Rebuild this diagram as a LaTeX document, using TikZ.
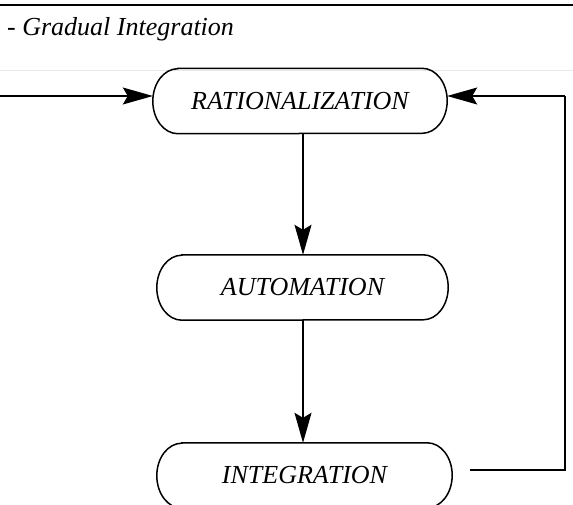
\documentclass[tikz,border=0pt]{standalone}
\usepackage{fontspec}
\setmainfont{Liberation Serif}
\usetikzlibrary{arrows.meta,calc}

\tikzset{
  box/.style={draw=none, shape=rectangle, inner sep=0pt, minimum height=65pt,
    font=\fontsize{26}{30}\selectfont\itshape},
  outline/.style={line width=1.5pt},
  flow/.style={line width=1.2pt,
    -{Stealth[length=30pt, width=17pt, inset=5pt]}},
  plain/.style={line width=1.2pt},
}

% rounded-end frame around a named box node (half-elliptic ends)
\newcommand\stadium[1]{%
  \draw[outline] ($(#1.north west)+(25pt,0)$) -- ($(#1.north east)+(-25pt,0)$)
    arc[start angle=90, end angle=-90, x radius=25pt, y radius=32.5pt]
    -- ($(#1.south west)+(25pt,0)$)
    arc[start angle=270, end angle=90, x radius=25pt, y radius=32.5pt]
    -- cycle;}

\begin{document}
\begin{tikzpicture}[x=1pt, y=1pt]
  \useasboundingbox (0,0) rectangle (573,504);
  \clip (0,0) rectangle (573,504);

  % heading rule and title
  \draw[line width=2.5pt] (0,499) -- (573,499);
  \node[anchor=base west, inner sep=0pt, font=\fontsize{26}{30}\selectfont\itshape]
    (title) at (7,468) {- Gradual Integration};
  \draw[gray!18, line width=0.6pt] (0,434) -- (573,434);

  % process steps
  \node[box, minimum width=294pt] (R) at (300,403) {RATIONALIZATION};
  \node[box, minimum width=291pt] (A) at (302.5,216.5) {AUTOMATION};
  \node[box, minimum width=295pt] (I) at (304.5,28.5) {INTEGRATION};
  \stadium{R}
  \stadium{A}
  \stadium{I}

  % connectors
  \coordinate (in) at (0,408);
  \coordinate (xv) at (303,0);
  \coordinate (fb0) at (470,34);
  \coordinate (fb1) at (565,34);
  \coordinate (fb2) at (565,408);

  \draw[flow] (in) -- (in -| R.west);
  \draw[flow] (R.south -| xv) -- (A.north -| xv);
  \draw[flow] (A.south -| xv) -- (I.north -| xv);
  \draw[plain] (fb0) -- (fb1) -- (fb2);
  \draw[flow] (fb2) -- (fb2 -| R.east);
\end{tikzpicture}
\end{document}
